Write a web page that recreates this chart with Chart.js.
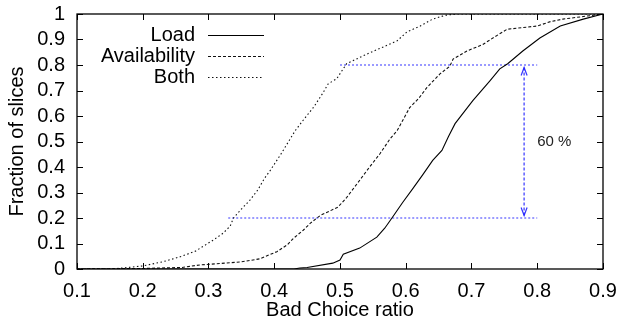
<!DOCTYPE html>
<html>
<head>
<meta charset="utf-8">
<script src="https://cdn.jsdelivr.net/npm/chart.js@4"></script>
<style>
  body { margin: 0; background: #fff; }
</style>
</head>
<body>
<canvas id="cdf" width="621" height="322"></canvas>
<script>
// CDF curves (x = bad choice ratio, y = fraction of slices)
const loadX = [0.1, 0.43, 0.439, 0.45, 0.489, 0.5, 0.505, 0.53, 0.556, 0.568, 0.579, 0.595, 0.611, 0.626, 0.641, 0.655, 0.665, 0.675, 0.702, 0.728, 0.743, 0.755, 0.778, 0.804, 0.835, 0.87, 0.9]
const loadY = [0, 0, 0.004, 0.006, 0.023, 0.035, 0.058, 0.082, 0.125, 0.16, 0.2, 0.26, 0.316, 0.37, 0.426, 0.465, 0.52, 0.57, 0.66, 0.738, 0.785, 0.805, 0.855, 0.906, 0.953, 0.98, 1]

const availX = [0.1, 0.2, 0.26, 0.287, 0.31, 0.35, 0.378, 0.404, 0.42, 0.429, 0.444, 0.455, 0.47, 0.485, 0.497, 0.51, 0.53, 0.545, 0.561, 0.576, 0.587, 0.606, 0.62, 0.632, 0.652, 0.667, 0.672, 0.693, 0.717, 0.735, 0.754, 0.8, 0.82, 0.839, 0.87, 0.9]
const availY = [0, 0.002, 0.006, 0.016, 0.02, 0.028, 0.04, 0.068, 0.095, 0.12, 0.152, 0.18, 0.21, 0.228, 0.243, 0.28, 0.348, 0.4, 0.453, 0.51, 0.543, 0.633, 0.67, 0.711, 0.765, 0.795, 0.823, 0.855, 0.88, 0.91, 0.94, 0.953, 0.97, 0.98, 0.99, 1]

const bothX = [0.1, 0.15, 0.17, 0.2, 0.23, 0.257, 0.28, 0.307, 0.322, 0.333, 0.338, 0.35, 0.363, 0.375, 0.385, 0.394, 0.41, 0.432, 0.446, 0.46, 0.474, 0.482, 0.495, 0.51, 0.541, 0.565, 0.587, 0.602, 0.622, 0.641, 0.66, 0.678, 0.9]
const bothY = [0, 0, 0.004, 0.012, 0.028, 0.048, 0.07, 0.113, 0.14, 0.168, 0.2, 0.235, 0.27, 0.31, 0.355, 0.387, 0.45, 0.543, 0.59, 0.635, 0.69, 0.726, 0.746, 0.805, 0.843, 0.87, 0.895, 0.93, 0.953, 0.98, 0.995, 1, 1]

const seriesNames = ['Load', 'Availability', 'Both']

// annotation: two guide lines and a double arrow with its label
const guideHigh = { y: 0.8, from: 0.5, to: 0.8 }
const guideLow = { y: 0.2, from: 0.33, to: 0.8 }
const arrowX = 0.78
const arrowEnds = [0.21, 0.79]
const arrowLabel = '60 %'
const arrowLabelPos = { x: 0.8, y: 0.5 }

const xTicks = [0.1, 0.2, 0.3, 0.4, 0.5, 0.6, 0.7, 0.8, 0.9]
const yTicks = [0, 0.1, 0.2, 0.3, 0.4, 0.5, 0.6, 0.7, 0.8, 0.9, 1]

const FONT = 'Liberation Sans, Arial, sans-serif'
const blue = 'rgba(30, 30, 255, 0.9)'

function pts (xs, ys) {
  return xs.map((x, i) => ({ x: x, y: ys[i] }))
}

const styles = [
  { color: '#000', dash: [] },
  { color: '#111', dash: [3, 2] },
  { color: '#111', dash: [1.5, 2.5] }
]

const curveSets = [[loadX, loadY], [availX, availY], [bothX, bothY]].map((s, i) => ({
  label: seriesNames[i],
  data: pts(s[0], s[1]),
  borderColor: styles[i].color,
  borderDash: styles[i].dash,
  borderWidth: 1.1,
  showLine: true,
  pointRadius: 0,
  tension: 0
}))

const guideSets = [guideHigh, guideLow].map((g) => ({
  label: '',
  data: [{ x: g.from, y: g.y }, { x: g.to, y: g.y }],
  borderColor: 'rgba(60, 60, 255, 0.85)',
  borderDash: [2, 2],
  borderWidth: 1.2,
  showLine: true,
  pointRadius: 0
}))

// border box, inward ticks on all sides, legend and the arrow
const decor = {
  id: 'decor',
  afterDatasetsDraw (chart) {
    const ctx = chart.ctx
    const a = chart.chartArea
    const xs = chart.scales.x
    const ys = chart.scales.y
    ctx.save()
    ctx.strokeStyle = '#000'
    ctx.lineWidth = 1
    ctx.setLineDash([])
    ctx.beginPath()
    xTicks.forEach((t) => {
      const px = Math.round(xs.getPixelForValue(t)) + 0.5
      ctx.moveTo(px, a.bottom); ctx.lineTo(px, a.bottom - 6)
      ctx.moveTo(px, a.top); ctx.lineTo(px, a.top + 6)
    })
    yTicks.forEach((t) => {
      const py = Math.round(ys.getPixelForValue(t)) + 0.5
      ctx.moveTo(a.left, py); ctx.lineTo(a.left + 6, py)
      ctx.moveTo(a.right, py); ctx.lineTo(a.right - 6, py)
    })
    ctx.stroke()
    ctx.lineWidth = 1.3
    ctx.strokeRect(a.left, a.top, a.right - a.left, a.bottom - a.top)

    // legend
    ctx.font = '20px ' + FONT
    ctx.textAlign = 'right'
    ctx.textBaseline = 'middle'
    ctx.fillStyle = '#000'
    curveSets.forEach((ds, i) => {
      const y = 35 + i * 21
      ctx.fillText(ds.label, 195, y)
      ctx.strokeStyle = ds.borderColor
      ctx.lineWidth = 1.1
      ctx.setLineDash(ds.borderDash)
      ctx.beginPath()
      ctx.moveTo(208, y + 0.5)
      ctx.lineTo(264, y + 0.5)
      ctx.stroke()
    })

    // double arrow
    const ax = xs.getPixelForValue(arrowX)
    const yTop = ys.getPixelForValue(arrowEnds[1])
    const yBot = ys.getPixelForValue(arrowEnds[0])
    ctx.strokeStyle = blue
    ctx.lineWidth = 1.2
    ctx.setLineDash([3, 2])
    ctx.beginPath()
    ctx.moveTo(ax, yTop)
    ctx.lineTo(ax, yBot)
    ctx.stroke()
    ctx.setLineDash([])
    ctx.beginPath()
    ctx.moveTo(ax - 3, yTop + 8); ctx.lineTo(ax, yTop); ctx.lineTo(ax + 3, yTop + 8)
    ctx.moveTo(ax - 3, yBot - 8); ctx.lineTo(ax, yBot); ctx.lineTo(ax + 3, yBot - 8)
    ctx.stroke()

    ctx.font = '15px ' + FONT
    ctx.textAlign = 'left'
    ctx.fillStyle = '#222'
    ctx.fillText(arrowLabel, xs.getPixelForValue(arrowLabelPos.x), ys.getPixelForValue(arrowLabelPos.y))
    ctx.restore()
  }
}

// invisible tick marks give the label gap without widening the layout padding
const hiddenGrid = (len) => ({
  display: true,
  drawOnChartArea: false,
  drawTicks: true,
  tickLength: len,
  color: 'rgba(0,0,0,0)'
})

const chart = new Chart(document.querySelector('#cdf'), {
  type: 'scatter',
  data: { datasets: curveSets.concat(guideSets) },
  options: {
    responsive: false,
    animation: false,
    layout: { padding: { left: 0, right: 18, top: 13, bottom: 0 } },
    plugins: {
      legend: { display: false },
      tooltip: { enabled: false }
    },
    scales: {
      x: {
        type: 'linear',
        min: 0.1,
        max: 0.9,
        afterFit: (s) => { s.height = 53 },
        afterBuildTicks: (s) => { s.ticks = xTicks.map((v) => ({ value: v })) },
        grid: hiddenGrid(10),
        border: { display: false },
        ticks: {
          color: '#000',
          padding: 0,
          autoSkip: false,
          maxRotation: 0,
          font: { family: FONT, size: 20 },
          callback: (v) => v.toFixed(1)
        },
        title: {
          display: true,
          text: 'Bad Choice ratio',
          color: '#000',
          padding: { top: 0, bottom: 0 },
          font: { family: FONT, size: 20 }
        }
      },
      y: {
        type: 'linear',
        min: 0,
        max: 1,
        afterFit: (s) => { s.width = 77 },
        afterBuildTicks: (s) => { s.ticks = yTicks.map((v) => ({ value: v })) },
        grid: hiddenGrid(10),
        border: { display: false },
        ticks: {
          color: '#000',
          padding: 2,
          autoSkip: false,
          font: { family: FONT, size: 20 },
          callback: (v) => (v === 0 || v === 1) ? String(v) : v.toFixed(1)
        },
        title: {
          display: true,
          text: 'Fraction of slices',
          color: '#000',
          padding: { top: 5, bottom: 0 },
          font: { family: FONT, size: 20 }
        }
      }
    }
  },
  plugins: [decor]
})
</script>
</body>
</html>
